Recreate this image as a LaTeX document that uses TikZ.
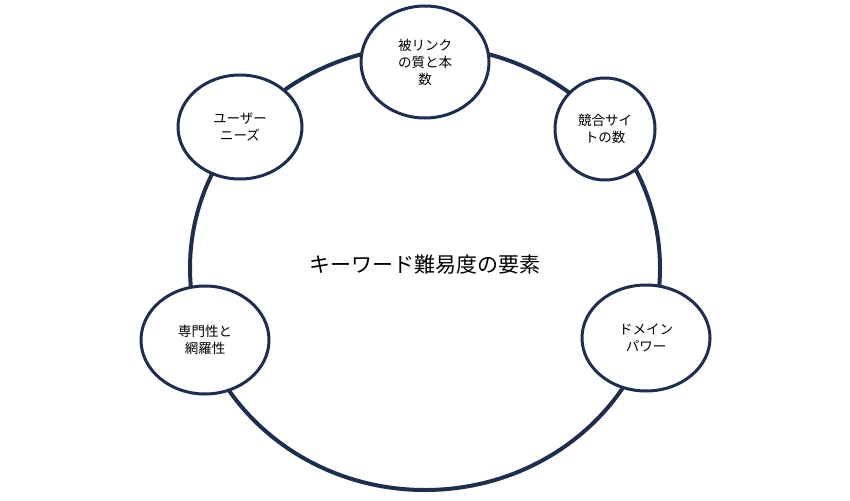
\documentclass[tikz,border=0pt]{standalone}
\usepackage{fontspec}
\setmainfont{Noto Sans CJK JP}
\usetikzlibrary{shapes.geometric}
\definecolor{navy}{HTML}{1F2D4F}
\tikzset{
	factor/.style={ellipse,draw=navy,line width=3pt,fill=white,align=center,font=\fontsize{13.5}{17}\selectfont,inner sep=0pt}
}
\begin{document}
\begin{tikzpicture}[x=1pt,y=-1pt]
	\useasboundingbox (0,0) rectangle (850,500);
	\draw[navy,line width=4pt] (425,268) ellipse [x radius=235,y radius=222];
	\node[font=\fontsize{21}{25}\selectfont] (center) at (425,265) {キーワード難易度の要素};
	\node[factor,minimum width=128,minimum height=112] (links) at (425,62) {被リンク\\の質と本\\数};
	\node[factor,minimum width=100,minimum height=102] (rivals) at (605,129) {競合サイ\\トの数};
	\node[factor,minimum width=124,minimum height=104] (needs) at (240,127) {ユーザー\\ニーズ};
	\node[factor,minimum width=128,minimum height=108] (expert) at (205,340) {専門性と\\網羅性};
	\node[factor,minimum width=128,minimum height=106] (domain) at (646,338) {ドメイン\\パワー};
\end{tikzpicture}
\end{document}
